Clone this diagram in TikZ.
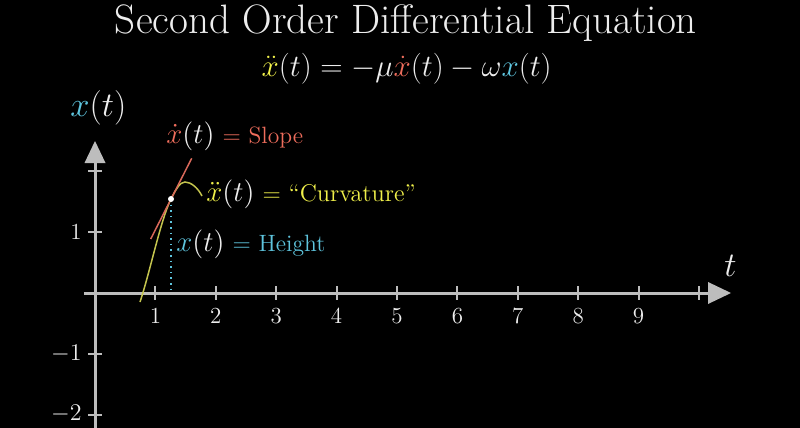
\documentclass[tikz,border=0pt]{standalone}
\usepackage{amsmath}
\usepackage{graphicx}
\definecolor{bluec}{HTML}{5EC4DD}
\definecolor{redc}{HTML}{EE6D5C}
\definecolor{yellowc}{HTML}{F0F04A}
\definecolor{curvey}{HTML}{C4C44E}
\definecolor{tangr}{HTML}{D8685A}
\definecolor{axisgray}{HTML}{BDBDBD}
\definecolor{txt}{HTML}{EDEDED}
\tikzset{
  lbl/.style={inner sep=0pt, text=txt},
  axisline/.style={axisgray, line width=1.5pt},
  tickmark/.style={axisgray, line width=1pt},
  arrowhd/.style={fill=axisgray, draw=none},
  ticklbl/.style={inner sep=0pt, text=txt, font=\fontsize{11.5}{13}\selectfont},
}
\begin{document}
\begin{tikzpicture}[x=0.5pt,y=-0.5pt]
\fill[black] (0,0) rectangle (800,428);
\useasboundingbox (0,0) rectangle (800,428);

% title and equation
\node[lbl, anchor=base] (title) at (406,33) {\resizebox{291pt}{!}{\fontsize{20}{24}\selectfont Second Order Differential Equation}};
\node[lbl, anchor=base] (eq) at (406.7,77) {\resizebox{145pt}{!}{\fontsize{16}{18}\selectfont $\color{yellowc}\ddot{x}\color{txt}(t) = -\mu\color{redc}\dot{x}\color{txt}(t) - \omega\color{bluec}x\color{txt}(t)$}};

% axes
\coordinate (xs) at (84,293);
\coordinate (xe) at (708,293);
\coordinate (ys) at (95,428);
\coordinate (ye) at (95,163);
\draw[axisline] (xs) -- (xe);
\draw[axisline] (ys) -- (ye);
\fill[arrowhd] (708,282) -- (731,293) -- (708,304) -- cycle;
\fill[arrowhd] (84.5,163) -- (95,141) -- (105.5,163) -- cycle;

% x ticks
\foreach \k in {1,...,10} {
  \draw[tickmark] ({95+60.4*\k},286) -- ({95+60.4*\k},300);
}
\foreach \k in {1,...,9} {
  \node[ticklbl, anchor=base] (tx\k) at ({95+60.4*\k},323.5) {\k};
}
% y ticks
\foreach \v/\yy in {1/232,2/171,-1/354,-2/415} {
  \draw[tickmark] (88,\yy) -- (102,\yy);
}
\node[ticklbl, anchor=east] (ty1) at (82,232) {1};
\node[ticklbl, anchor=east] (tym1) at (82,354) {$-1$};
\node[ticklbl, anchor=east] (tym2) at (82,414) {$-2$};

% axis labels
\node[lbl, anchor=base west] (ylab) at (70,116.7) {\fontsize{16.2}{18}\selectfont $\color{bluec}x\color{txt}(t)$};
\node[lbl, anchor=base west] (tlab) at (724,276) {\fontsize{16}{18}\selectfont $t$};

% curve
\coordinate (pt) at (171,199);
\coordinate (pb) at (171,293);
\draw[curvey, line width=0.75pt] (140,302) .. controls (150,272) and (161,218.7) .. (pt)
  .. controls (176,189.2) and (180,182) .. (185,182)
  .. controls (191,182) and (198,188) .. (202,196);
% tangent
\coordinate (ta) at (150.7,239);
\coordinate (tb) at (191.7,158.3);
\draw[tangr, line width=0.75pt] (ta) -- (tb);
% height
\draw[bluec, line width=0.8pt, dotted] (pt) -- (pb);
\node[circle, fill=white, inner sep=0pt, minimum size=3pt] (dot) at (pt) {};

% labels
\node[lbl, anchor=base west] (slope) at (166,143) {\fontsize{15}{18}\selectfont $\color{redc}\dot{x}\color{txt}(t)$\hspace{4pt}\fontsize{11.8}{14}\selectfont\color{redc}$=$ Slope};
\node[lbl, anchor=base west] (curv) at (206,201) {\fontsize{15}{18}\selectfont $\color{yellowc}\ddot{x}\color{txt}(t)$\hspace{4pt}\fontsize{12.1}{14}\selectfont\color{yellowc}$=$ ``Curvature''};
\node[lbl, anchor=base west] (height) at (176,251.7) {\fontsize{15}{18}\selectfont $\color{bluec}x\color{txt}(t)$\hspace{4pt}\fontsize{11.8}{14}\selectfont\color{bluec}$=$ Height};
\end{tikzpicture}
\end{document}
